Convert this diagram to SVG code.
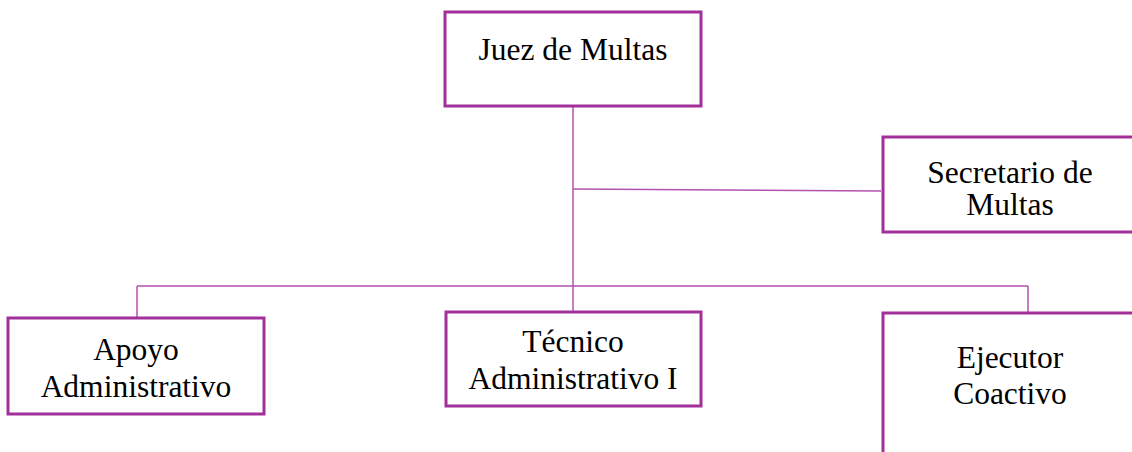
<svg xmlns="http://www.w3.org/2000/svg" width="1132" height="452" viewBox="0 0 1132 452">
<style>
.box{fill:#ffffff;stroke:#A3309A;stroke-width:3}
.ln{stroke:#B452AE;stroke-width:1.5;fill:none}
.t{font-family:'Liberation Serif','Times New Roman',Times,serif;font-size:31.5px;fill:#000;text-anchor:middle}
</style>
<rect width="1132" height="452" fill="#ffffff"/>
<g id="connectors">
<line class="ln" x1="573" y1="106" x2="573" y2="312"/>
<line class="ln" x1="573" y1="189" x2="881" y2="191"/>
<line class="ln" x1="137" y1="286" x2="1028" y2="286"/>
<line class="ln" x1="137" y1="286" x2="137" y2="318"/>
<line class="ln" x1="1028" y1="286" x2="1028" y2="313"/>
</g>
<g id="juez">
<rect class="box" x="445" y="12" width="256" height="94"/>
<text class="t" x="573" y="60" font-family="Liberation Serif, serif">Juez de Multas</text>
</g>
<g id="secretario">
<rect class="box" x="883" y="137" width="260" height="95"/>
<text class="t" x="1010" y="183">Secretario de</text>
<text class="t" x="1010" y="215">Multas</text>
</g>
<g id="apoyo">
<rect class="box" x="8" y="318" width="256" height="96"/>
<text class="t" x="136" y="360">Apoyo</text>
<text class="t" x="136" y="397">Administrativo</text>
</g>
<g id="tecnico">
<rect class="box" x="446" y="312" width="255" height="94"/>
<text class="t" x="573" y="352">Técnico</text>
<text class="t" x="573" y="389">Administrativo I</text>
</g>
<g id="ejecutor">
<rect class="box" x="883" y="313" width="260" height="150"/>
<text class="t" x="1010" y="368">Ejecutor</text>
<text class="t" x="1010" y="404">Coactivo</text>
</g>
</svg>
